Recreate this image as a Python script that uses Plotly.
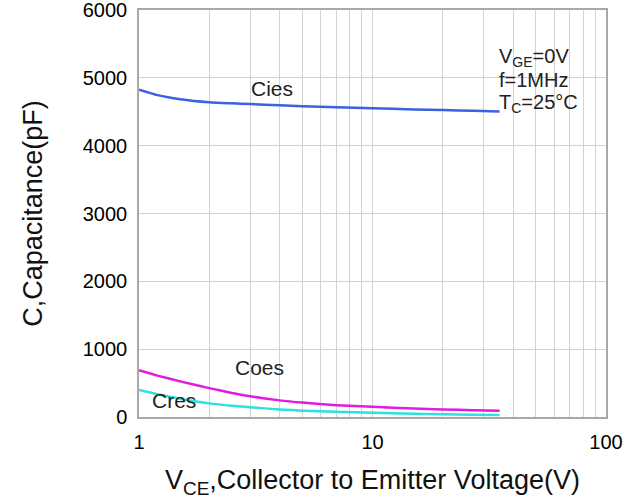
import plotly.graph_objects as go

# Capacitance vs. collector-emitter voltage (values in pF)
vce = [1, 1.2, 1.5, 2, 2.5, 3, 4, 5, 7, 10, 15, 20, 27, 35]
cies = [4824, 4745, 4685, 4640, 4624, 4613, 4595, 4582, 4567, 4551, 4535, 4524, 4513, 4505]
coes = [690, 610, 525, 426, 355, 305, 245, 212, 175, 150, 126, 112, 101, 93]
cres = [397, 335, 270, 201, 165, 143, 112, 93, 76, 63, 49, 40, 34, 30]

series = [
    ("Cies", cies, "#3a62e2"),
    ("Coes", coes, "#e21ae2"),
    ("Cres", cres, "#2ee0e0"),
]

condition_lines = ["V<sub>GE</sub>=0V", "f=1MHz", "T<sub>C</sub>=25°C"]

FONT = "Liberation Sans, Arial, sans-serif"

fig = go.Figure()

# white panel behind the test conditions (hides the grid there)
fig.add_shape(type="rect", xref="paper", yref="paper",
              x0=0.745, x1=0.995, y0=0.755, y1=0.96,
              fillcolor="white", line_width=0, layer="below")

for name, vals, color in series:
    fig.add_trace(go.Scatter(
        x=vce, y=vals, mode="lines", name=name,
        line=dict(color=color, width=2.5, shape="spline", smoothing=0.5),
        showlegend=False,
    ))

label_font = dict(family=FONT, size=21, color="#222")
fig.add_annotation(x=0.57, y=4838, text="Cies", showarrow=False, font=label_font)
fig.add_annotation(x=0.514, y=735, text="Coes", showarrow=False, font=label_font)
fig.add_annotation(x=0.15, y=250, text="Cres", showarrow=False, font=label_font)

for i, line in enumerate(condition_lines):
    fig.add_annotation(
        xref="paper", yref="paper", x=0.767, y=0.883 - i * 0.056,
        xanchor="left", yanchor="middle", text=line, showarrow=False,
        font=dict(family=FONT, size=20, color="#222"),
    )

axis_common = dict(
    showgrid=True, gridcolor="#d2d2d2", gridwidth=1.3,
    showline=True, linecolor="#a8a8a8", linewidth=1.5, mirror=True,
    ticks="", zeroline=False, automargin=False,
    ticklabeloverflow="allow",
    tickfont=dict(family=FONT, size=20, color="#000"),
)

fig.update_xaxes(
    type="log", range=[0, 2],
    tickvals=[1, 10, 100], ticktext=["1", "10", "100"],
    ticklabelstandoff=6,
    minor=dict(showgrid=True, gridcolor="#d2d2d2", gridwidth=1.3,
               tickvals=[2, 3, 4, 5, 6, 7, 8, 9, 20, 30, 40, 50, 60, 70, 80, 90]),
    title=dict(text="V<sub>CE</sub>,Collector to Emitter Voltage(V)", standoff=20,
               font=dict(family=FONT, size=27, color="#111")),
    **axis_common,
)
fig.update_yaxes(
    range=[0, 6000], tickvals=[0, 1000, 2000, 3000, 4000, 5000, 6000],
    ticklabelstandoff=6,
    title=dict(text="C,Capacitance(pF)", standoff=32,
               font=dict(family=FONT, size=27, color="#111")),
    **axis_common,
)

fig.update_layout(
    width=638, height=499,
    margin=dict(l=139, r=32, t=10, b=82),
    paper_bgcolor="white", plot_bgcolor="white",
)

fig.write_html("out.html")
